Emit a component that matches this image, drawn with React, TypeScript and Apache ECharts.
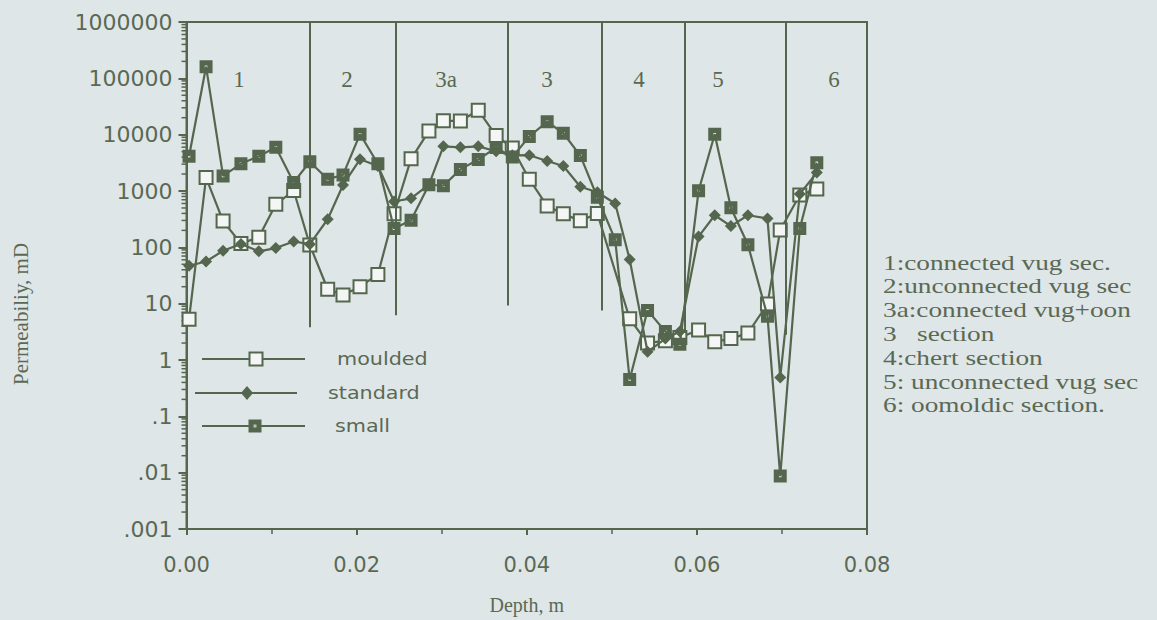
import React, { useEffect, useRef } from "react";
import * as echarts from "echarts";

// Depth (m) of each measured point
const depths = [0.0003, 0.0023, 0.0043, 0.0064, 0.0085, 0.0105, 0.0126, 0.0145, 0.0166, 0.0184, 0.0204, 0.0225, 0.0244, 0.0264, 0.0285, 0.0302, 0.0322, 0.0343, 0.0364, 0.0383, 0.0403, 0.0424, 0.0443, 0.0463, 0.0483, 0.0504, 0.0521, 0.0542, 0.0563, 0.058, 0.0602, 0.0621, 0.064, 0.066, 0.0683, 0.0698, 0.0721, 0.0741];

// Permeability, mD
const moulded = [5.3, 1730, 292, 117, 151, 580, 1020, 110, 18, 14.3, 20, 33, 395, 3720, 11600, 17700, 17500, 27100, 9660, 5800, 1620, 540, 395, 295, 400, null, 5.4, 2.0, 2.2, 2.5, 3.4, 2.1, 2.4, 3.0, 9.9, 203, 850, 1080];
const standard = [47, 56, 87, 115, 85, 97, 127, 114, 315, 1280, 3650, 2770, 650, 740, 1300, 6200, 5960, 6200, 5070, 4300, 4320, 3400, 2770, 1190, 950, 600, 61, 1.4, 2.4, 3.2, 155, 371, 238, 371, 324, 0.49, 885, 2120];
const small = [4150, 161000, 1850, 3040, 4150, 5960, 1420, 3300, 1620, 1930, 10200, 3040, 215, 303, 1290, 1240, 2420, 3620, 5900, 4000, 9280, 17000, 10600, 4250, 775, 136, 0.45, 7.6, 3.2, 1.9, 1010, 10200, 505, 111, 6.0, 0.0087, 216, 3170];

// Section boundaries (depth, m) and the permeability where each drawn divider stops
const sectionBounds = [0.0145, 0.0246, 0.0378, 0.0488, 0.0586, 0.0705];
const sectionLineEnds = [3.8, 6.2, 9.3, 7.6, 3.0, 2.8];
const sectionNames = ["1", "2", "3a", "3", "4", "5", "6"];

// Axis tick labels
const yTickExps = [-3, -2, -1, 0, 1, 2, 3, 4, 5, 6];
const yTickLabels = [".001", ".01", ".1", "1", "10", "100", "1000", "10000", "100000", "1000000"];
const xTickLabels = ["0.00", "0.02", "0.04", "0.06", "0.08"];

const minorTickValues: number[] = [];
for (let e = -3; e < 6; e++) {
  for (let m = 2; m <= 9; m++) minorTickValues.push(m * Math.pow(10, e));
}

const sectionKey = [
  "1:connected vug sec.",
  "2:unconnected vug sec",
  "3a:connected vug+oon",
  "3   section",
  "4:chert section",
  "5: unconnected vug sec",
  "6: oomoldic section.",
];

const C = "#55664e";
const TXT = "#5a6954";
const BG = "#dfe6e7";
const SANS = "DejaVu Sans";
const SERIF = "Liberation Serif";
const SMALL_SYMBOL = "path://M0,0L10,0L10,10L0,10Z M4,4L4,6L6,6L6,4Z";

function pairs(vals: (number | null)[]) {
  const out: number[][] = [];
  vals.forEach((v, i) => {
    if (v != null) out.push([depths[i], v]);
  });
  return out;
}

export default function App() {
  const ref = useRef<HTMLDivElement>(null);
  useEffect(() => {
    if (!ref.current) return;
    const chart = echarts.init(ref.current, null, { renderer: "svg" });

    const sectionLabelX = [239, 347, 446, 547, 639, 718, 834];
    const graphic: any[] = [];
    sectionNames.forEach((n, i) => {
      graphic.push({
        type: "text",
        x: sectionLabelX[i],
        y: 79,
        style: { text: n, fontSize: 23, fontFamily: SERIF, fill: TXT, align: "center", verticalAlign: "middle" },
      });
    });
    sectionKey.forEach((t, i) => {
      graphic.push({
        type: "text",
        x: 883,
        y: 262 + i * 23.8,
        scaleX: 1.24,
        style: { text: t, fontSize: 22, fontFamily: SERIF, fill: TXT, align: "left", verticalAlign: "middle" },
      });
    });
    graphic.push({
      type: "text",
      x: 21,
      y: 314,
      rotation: Math.PI / 2,
      style: { text: "Permeabiliy, mD", fontSize: 21, fontFamily: SERIF, fill: TXT, align: "center", verticalAlign: "middle" },
    });
    // legend
    const legendRows = [
      { name: "moulded", y: 359, x1: 202, x2: 305, mx: 256, tx: 337 },
      { name: "standard", y: 393, x1: 195, x2: 297, mx: 247, tx: 328 },
      { name: "small", y: 426, x1: 202, x2: 305, mx: 255, tx: 335 },
    ];
    legendRows.forEach((r, i) => {
      graphic.push({ type: "line", shape: { x1: r.x1, y1: r.y, x2: r.x2, y2: r.y }, style: { stroke: C, lineWidth: 2 } });
      if (i === 0) {
        graphic.push({ type: "rect", shape: { x: r.mx - 6.5, y: r.y - 6.5, width: 13, height: 13 }, style: { fill: "#f3f6f4", stroke: C, lineWidth: 2 } });
      } else if (i === 1) {
        graphic.push({ type: "polygon", shape: { points: [[r.mx, r.y - 7], [r.mx + 6, r.y], [r.mx, r.y + 7], [r.mx - 6, r.y]] }, style: { fill: C } });
      } else {
        graphic.push({ type: "rect", shape: { x: r.mx - 6.5, y: r.y - 6.5, width: 13, height: 13 }, style: { fill: C } });
        graphic.push({ type: "rect", shape: { x: r.mx - 1.5, y: r.y - 1.5, width: 3, height: 3 }, style: { fill: "#b9c2b6" } });
      }
      graphic.push({
        type: "text",
        x: r.tx,
        y: r.y,
        scaleX: 1.15,
        style: { text: r.name, fontSize: 18, fontFamily: SANS, fill: TXT, align: "left", verticalAlign: "middle" },
      });
    });

    const lineSeries = (name: string, vals: (number | null)[], symbol: string, size: number, item: any, extra: any = {}) => ({
      name,
      type: "line",
      data: pairs(vals),
      symbol,
      symbolSize: size,
      showSymbol: true,
      itemStyle: item,
      lineStyle: { color: C, width: 2.2 },
      clip: false,
      ...extra,
    });

    const option: any = {
      animation: false,
      backgroundColor: BG,
      grid: { left: 186.5, right: 290, top: 22, bottom: 83, show: true, borderColor: C, borderWidth: 2, backgroundColor: "transparent" },
      xAxis: {
        type: "value",
        min: 0,
        max: 0.08,
        interval: 0.02,
        axisLine: { lineStyle: { color: C, width: 2 } },
        axisTick: { length: 6, lineStyle: { color: C, width: 2 } },
        minorTick: { show: true, splitNumber: 2, length: 5, lineStyle: { color: C, width: 1.5 } },
        splitLine: { show: false },
        axisLabel: {
          formatter: (v: number) => xTickLabels[Math.round(v / 0.02)] ?? "",
          fontSize: 21,
          fontFamily: SANS,
          color: TXT,
          margin: 25,
        },
        name: "Depth, m",
        nameLocation: "middle",
        nameGap: 66,
        nameTextStyle: { fontSize: 20, fontFamily: SERIF, color: TXT },
      },
      yAxis: {
        type: "log",
        logBase: 10,
        min: 0.001,
        max: 1000000,
        splitNumber: 9,
        axisLine: { lineStyle: { color: C, width: 2 } },
        axisTick: { length: 8, lineStyle: { color: C, width: 2 } },
        splitLine: { show: false },
        axisLabel: {
          formatter: (v: number) => {
            const e = Math.round(Math.log10(v));
            const idx = yTickExps.indexOf(e);
            return idx >= 0 ? yTickLabels[idx] : "";
          },
          fontSize: 22,
          fontFamily: SANS,
          color: TXT,
          margin: 14,
        },
      },
      graphic,
      series: [
        {
          type: "custom",
          silent: true,
          clip: false,
          data: minorTickValues.map((v) => [0, v]),
          renderItem: (params: any, api: any) => {
            const p = api.coord([0, api.value(1)]);
            return {
              type: "line",
              shape: { x1: p[0] - 5, y1: p[1], x2: p[0], y2: p[1] },
              style: { stroke: C, lineWidth: 1.5 },
            };
          },
        },
        lineSeries("moulded", moulded, "rect", 13, { color: "#f3f6f4", borderColor: C, borderWidth: 2 }, {
          z: 3,
          markLine: {
            silent: true,
            symbol: ["none", "none"],
            label: { show: false },
            lineStyle: { color: C, width: 2, type: "solid" },
            data: sectionBounds.map((d, i) => [{ coord: [d, 1000000] }, { coord: [d, sectionLineEnds[i]] }]),
          },
        }),
        lineSeries("standard", standard, "diamond", 12, { color: C }, { z: 4 }),
        lineSeries("small", small, SMALL_SYMBOL, 13, { color: C }, { z: 5 }),
      ],
    };
    chart.setOption(option);
    return () => chart.dispose();
  }, []);

  return <div ref={ref} style={{ position: "fixed", left: 0, top: 0, width: 1157, height: 620 }} />;
}
